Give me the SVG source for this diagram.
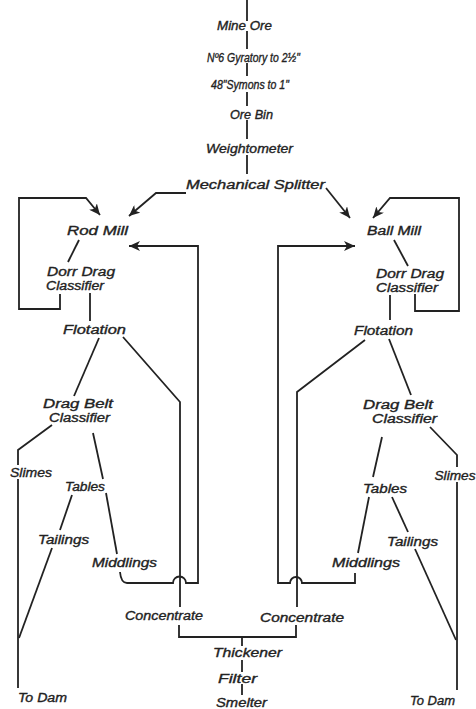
<svg xmlns="http://www.w3.org/2000/svg" width="476" height="709" viewBox="0 0 476 709">
<style>
.t{font-family:"Liberation Sans",Arial,sans-serif;font-style:italic;font-size:12.5px;fill:#222;stroke:#222;stroke-width:0.35;text-anchor:middle}
.c{fill:none;stroke:#222;stroke-width:1.8;stroke-linejoin:miter}
</style>
<defs>
<marker id="ah" markerUnits="userSpaceOnUse" markerWidth="12" markerHeight="10" refX="11" refY="5" orient="auto">
<path d="M0,0 L11,5 L0,10 L3,5 z" fill="#222"/>
</marker>
</defs>
<rect width="476" height="709" fill="#fff"/>
<g id="connectors" class="c">
<path d="M247 0 V21"/>
<path d="M247 31 V49"/>
<path d="M247 63 V76"/>
<path d="M247 92 V106"/>
<path d="M247 120 V139"/>
<path d="M247 155 V174"/>
<path d="M186 193 H156 L129 216" marker-end="url(#ah)"/>
<path d="M326 188 L350 218" marker-end="url(#ah)"/>
<path d="M60 294 V309 H19 V198 H86 L100 215" marker-end="url(#ah)"/>
<path d="M415 294 V311 H459 V198 H390 L373 218" marker-end="url(#ah)"/>
<path d="M79 240 L68 262"/>
<path d="M394 240 L408 266"/>
<path d="M90 293 V321"/>
<path d="M390 295 V320"/>
<path d="M99 338 L74 396"/>
<path d="M389 339 L411 395"/>
<path d="M123 337 L180 402 V607"/>
<path d="M365 340 L297 392 V607"/>
<path d="M179 625 V637 H296 V625"/>
<path d="M242 637 V646"/>
<path d="M242 660 V672"/>
<path d="M242 684 V695"/>
<path d="M120 572 Q121 583 127 583 H173 A6.5 6.5 0 0 1 186 583 H198 V246 H129" marker-end="url(#ah)"/>
<path d="M355 573 V583 H302 A6 6 0 0 0 290 583 H278 V246 H355" marker-end="url(#ah)"/>
<path d="M52 425 L18 450 V465"/>
<path d="M18 479 V688"/>
<path d="M430 427 L457 455 V467"/>
<path d="M457 482 V690"/>
<path d="M52 548 L19 638"/>
<path d="M415 549 L456 640"/>
<path d="M93 433 L103 479"/>
<path d="M106 493 L117 554"/>
<path d="M72 495 L60 530"/>
<path d="M382 437 L373 477"/>
<path d="M369 497 L358 553"/>
<path d="M392 497 L408 532"/>
</g>
<g id="mine-ore"><text class="t" x="244.5" y="29.5" textLength="55" lengthAdjust="spacingAndGlyphs">Mine Ore</text></g>
<g id="gyratory"><text class="t" x="253.5" y="61.5" textLength="93" lengthAdjust="spacingAndGlyphs">Nº6 Gyratory to 2½"</text></g>
<g id="symons"><text class="t" x="250" y="88.5" textLength="78" lengthAdjust="spacingAndGlyphs">48"Symons to 1"</text></g>
<g id="ore-bin"><text class="t" x="251.5" y="118.5" textLength="43" lengthAdjust="spacingAndGlyphs">Ore Bin</text></g>
<g id="weightometer"><text class="t" x="249.5" y="152.5" textLength="87" lengthAdjust="spacingAndGlyphs">Weightometer</text></g>
<g id="splitter"><text class="t" x="255.5" y="188.5" textLength="139" lengthAdjust="spacingAndGlyphs">Mechanical Splitter</text></g>
<g id="rod-mill"><text class="t" x="97.5" y="234.5" textLength="61" lengthAdjust="spacingAndGlyphs">Rod Mill</text></g>
<g id="ball-mill"><text class="t" x="394" y="234.5" textLength="54" lengthAdjust="spacingAndGlyphs">Ball Mill</text></g>
<g id="dorr-left"><text class="t" x="81" y="275.5" textLength="68" lengthAdjust="spacingAndGlyphs">Dorr Drag</text><text class="t" x="75" y="289.5" textLength="58" lengthAdjust="spacingAndGlyphs">Classifier</text></g>
<g id="dorr-right"><text class="t" x="410" y="277.5" textLength="68" lengthAdjust="spacingAndGlyphs">Dorr Drag</text><text class="t" x="407" y="291.5" textLength="62" lengthAdjust="spacingAndGlyphs">Classifier</text></g>
<g id="flotation-left"><text class="t" x="94.5" y="333.5" textLength="63" lengthAdjust="spacingAndGlyphs">Flotation</text></g>
<g id="flotation-right"><text class="t" x="383.5" y="334.5" textLength="59" lengthAdjust="spacingAndGlyphs">Flotation</text></g>
<g id="dragbelt-left"><text class="t" x="78" y="407.5" textLength="70" lengthAdjust="spacingAndGlyphs">Drag Belt</text><text class="t" x="79.5" y="421.5" textLength="61" lengthAdjust="spacingAndGlyphs">Classifier</text></g>
<g id="dragbelt-right"><text class="t" x="398" y="408.5" textLength="70" lengthAdjust="spacingAndGlyphs">Drag Belt</text><text class="t" x="404.5" y="422.5" textLength="65" lengthAdjust="spacingAndGlyphs">Classifier</text></g>
<g id="slimes-left"><text class="t" x="31" y="476.5" textLength="42" lengthAdjust="spacingAndGlyphs">Slimes</text></g>
<g id="slimes-right"><text class="t" x="455" y="479.5" textLength="41" lengthAdjust="spacingAndGlyphs">Slimes</text></g>
<g id="tables-left"><text class="t" x="85" y="490.5" textLength="40" lengthAdjust="spacingAndGlyphs">Tables</text></g>
<g id="tables-right"><text class="t" x="385" y="492.5" textLength="44" lengthAdjust="spacingAndGlyphs">Tables</text></g>
<g id="tailings-left"><text class="t" x="63.5" y="543.5" textLength="51" lengthAdjust="spacingAndGlyphs">Tailings</text></g>
<g id="tailings-right"><text class="t" x="412.5" y="545.5" textLength="51" lengthAdjust="spacingAndGlyphs">Tailings</text></g>
<g id="middlings-left"><text class="t" x="124.5" y="566.5" textLength="65" lengthAdjust="spacingAndGlyphs">Middlings</text></g>
<g id="middlings-right"><text class="t" x="366" y="566.5" textLength="68" lengthAdjust="spacingAndGlyphs">Middlings</text></g>
<g id="concentrate-left"><text class="t" x="164" y="619.5" textLength="78" lengthAdjust="spacingAndGlyphs">Concentrate</text></g>
<g id="concentrate-right"><text class="t" x="302" y="621.5" textLength="84" lengthAdjust="spacingAndGlyphs">Concentrate</text></g>
<g id="thickener"><text class="t" x="247.5" y="657" textLength="69" lengthAdjust="spacingAndGlyphs">Thickener</text></g>
<g id="filter"><text class="t" x="237.5" y="682.5" textLength="39" lengthAdjust="spacingAndGlyphs">Filter</text></g>
<g id="smelter"><text class="t" x="241.5" y="706.5" textLength="51" lengthAdjust="spacingAndGlyphs">Smelter</text></g>
<g id="to-dam-left"><text class="t" x="42.5" y="701.5" textLength="49" lengthAdjust="spacingAndGlyphs">To Dam</text></g>
<g id="to-dam-right"><text class="t" x="432.5" y="704.5" textLength="45" lengthAdjust="spacingAndGlyphs">To Dam</text></g>
</svg>
